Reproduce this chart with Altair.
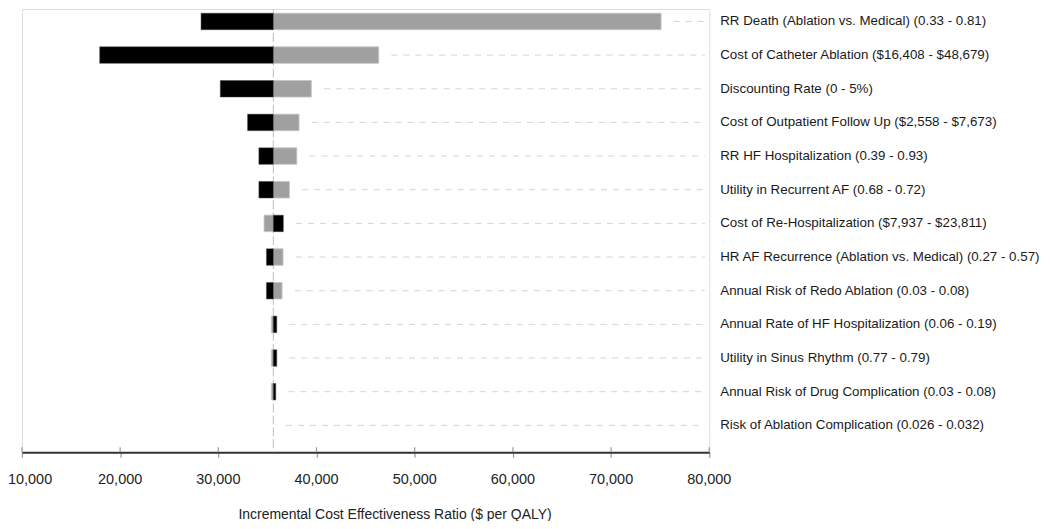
import altair as alt
import pandas as pd

params = [
    "RR Death (Ablation vs. Medical) (0.33 - 0.81)",
    "Cost of Catheter Ablation ($16,408 - $48,679)",
    "Discounting Rate (0 - 5%)",
    "Cost of Outpatient Follow Up ($2,558 - $7,673)",
    "RR HF Hospitalization (0.39 - 0.93)",
    "Utility in Recurrent AF (0.68 - 0.72)",
    "Cost of Re-Hospitalization ($7,937 - $23,811)",
    "HR AF Recurrence (Ablation vs. Medical) (0.27 - 0.57)",
    "Annual Risk of Redo Ablation (0.03 - 0.08)",
    "Annual Rate of HF Hospitalization (0.06 - 0.19)",
    "Utility in Sinus Rhythm (0.77 - 0.79)",
    "Annual Risk of Drug Complication (0.03 - 0.08)",
    "Risk of Ablation Complication (0.026 - 0.032)",
]
# ICER at the end of each bar (black and gray side)
black_end = [28240, 17920, 30200, 32980, 34130, 34130, 36620, 34900, 34900, 35950, 35950, 35850, 35600]
gray_end = [75090, 46330, 39470, 38220, 37990, 37240, 34660, 36590, 36490, 35400, 35400, 35400, 35600]
baseline = 35600
tick_values = [10000, 20000, 30000, 40000, 50000, 60000, 70000, 80000]
x_title = "Incremental Cost Effectiveness Ratio ($ per QALY)"

rows = list(range(len(params)))
df = pd.DataFrame({"param": params, "row": rows, "black": black_end, "gray": gray_end})
df["base"] = baseline
ticks_df = pd.DataFrame({"t": tick_values})

FONT = "Liberation Sans"
xscale = alt.Scale(domain=[10000, 80000], nice=False, zero=False)
yscale = alt.Scale(domain=[-0.37, 12.8], reverse=True, nice=False, zero=False)

base = alt.Chart(df)

baseline_rule = alt.Chart(pd.DataFrame({"b": [baseline]})).mark_rule(
    color="#bdbdbd", strokeWidth=1, strokeDash=[9, 3]
).encode(
    x=alt.X("b:Q", scale=xscale,
            axis=alt.Axis(values=tick_values, grid=False, labels=False,
                          domainColor="#333333", domainWidth=2,
                          tickColor="#999999", tickSize=5, tickWidth=1.2,
                          title=x_title, titleFont=FONT, titleFontSize=14,
                          titleFontWeight="normal", titleColor="#222222",
                          titleX=374, titleY=62, titleBaseline="middle",
                          titleAlign="center", titleAnchor="start")),
)

guides = base.transform_calculate(
    gs="max(datum.black, datum.gray, datum.base) + 1300",
    ge="79550",
).mark_rule(color="#d4d4d4", strokeWidth=1, strokeDash=[6, 6]).encode(
    x=alt.X("gs:Q", scale=xscale),
    x2="ge:Q",
    y=alt.Y("row:Q", scale=yscale, axis=None),
)

gray_bars = base.transform_filter("datum.gray != datum.base").transform_calculate(
    y0="datum.row - 0.245", y1="datum.row + 0.245"
).mark_rect(color="#a0a0a0", stroke="#c4c4c4", strokeWidth=0.8).encode(
    x=alt.X("base:Q", scale=xscale),
    x2="gray:Q",
    y=alt.Y("y0:Q", scale=yscale, axis=None),
    y2="y1:Q",
)

black_bars = base.transform_filter("datum.black != datum.base").transform_calculate(
    y0="datum.row - 0.245", y1="datum.row + 0.245"
).mark_rect(color="#000000", stroke="#444444", strokeWidth=0.5).encode(
    x=alt.X("base:Q", scale=xscale),
    x2="black:Q",
    y=alt.Y("y0:Q", scale=yscale, axis=None),
    y2="y1:Q",
)

labels = base.mark_text(
    align="left", baseline="middle", dx=11, font=FONT, fontSize=13.4, color="#1a1a1a"
).encode(
    x=alt.datum(80000, scale=xscale),
    y=alt.Y("row:Q", scale=yscale, axis=None),
    text="param:N",
)

upper_ticks = alt.Chart(ticks_df).mark_rule(color="#999999", strokeWidth=1.2).encode(
    x=alt.X("t:Q", scale=xscale),
    y=alt.value(440),
    y2=alt.value(445),
)

tick_text = alt.Chart(ticks_df).transform_calculate(lab="format(datum.t, ',d')")
first_label = tick_text.transform_filter(f"datum.t == {tick_values[0]}").mark_text(
    align="left", baseline="middle", dx=-14, font=FONT, fontSize=14.5, color="#222222"
).encode(
    x=alt.X("t:Q", scale=xscale),
    y=alt.value(473),
    text="lab:N",
)
other_labels = tick_text.transform_filter(f"datum.t != {tick_values[0]}").mark_text(
    align="center", baseline="middle", font=FONT, fontSize=14.5, color="#222222"
).encode(
    x=alt.X("t:Q", scale=xscale),
    y=alt.value(473),
    text="lab:N",
)

chart = alt.layer(baseline_rule, guides, gray_bars, black_bars, labels, upper_ticks,
                  first_label, other_labels).properties(
    width=690, height=445,
    autosize=alt.AutoSizeParams(type="none"),
    padding={"left": 14, "right": 334, "top": 0, "bottom": 68},
).configure_view(stroke=None).configure(background="white")

chart.save("out.html", embed_options={"renderer": "svg", "actions": False})
